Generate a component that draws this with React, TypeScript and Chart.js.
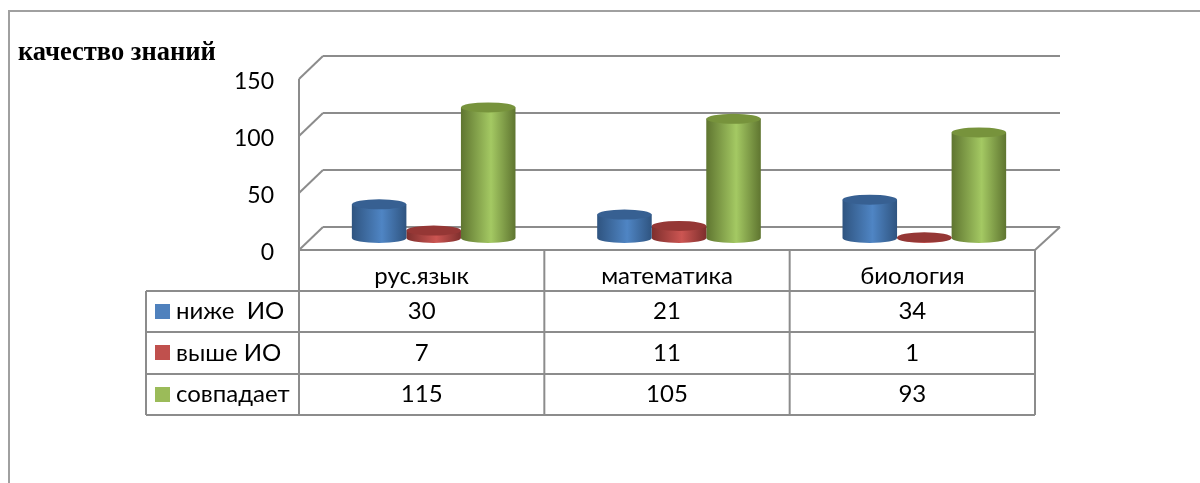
import React, { useEffect, useRef } from "react";
import { Chart, registerables } from "chart.js";

Chart.register(...registerables);

const categories = ["рус.язык", "математика", "биология"];
const seriesNames = ["ниже  ИО", "выше ИО", "совпадает"];
const below = [30, 21, 34];
const above = [7, 11, 1];
const matches = [115, 105, 93];
const yTicks = [0, 50, 100, 150];

const seriesColors = ["#4F81BD", "#C0504D", "#9BBB59"];
const shades = [
  { dark: "#2F5480", mid: "#4F85C4", top: "#376092" },
  { dark: "#7E2F2D", mid: "#CC5552", top: "#953735" },
  { dark: "#5F7530", mid: "#A4C963", top: "#77933C" },
];

const FONT = "Lato, 'Open Sans', sans-serif";
const LINE = "#8C8C8C";
const DEPTH_X = 24;
const DEPTH_Y = 23;
const RY = 5;
const ROWS = [291, 332, 374, 415];
const TABLE_LEFT = 146;

function seg(c: CanvasRenderingContext2D, x1: number, y1: number, x2: number, y2: number) {
  c.beginPath();
  c.moveTo(x1, y1);
  c.lineTo(x2, y2);
  c.stroke();
}

const scene = {
  id: "scene",
  beforeDatasetsDraw(chart: any) {
    const c: CanvasRenderingContext2D = chart.ctx;
    const { x, y } = chart.scales;
    const l = x.left;
    const r = x.right;
    c.save();
    // outer frame
    c.strokeStyle = "#A0A0A0";
    c.lineWidth = 2;
    c.beginPath();
    c.moveTo(9, 483);
    c.lineTo(9, 11);
    c.lineTo(1200, 11);
    c.stroke();
    // walls
    c.strokeStyle = LINE;
    c.lineWidth = 2;
    yTicks.forEach((t) => {
      const py = y.getPixelForValue(t);
      seg(c, l, py, l + DEPTH_X, py - DEPTH_Y);
      seg(c, l + DEPTH_X, py - DEPTH_Y, r + DEPTH_X + 1, py - DEPTH_Y);
    });
    const y0 = y.getPixelForValue(0);
    seg(c, l, y.getPixelForValue(150), l, y0);
    seg(c, l, y0, r, y0);
    seg(c, r, y0, r + DEPTH_X + 1, y0 - DEPTH_Y);
    // table grid
    const lastRow = ROWS[ROWS.length - 1];
    [l, ...categories.map((_, i) => x.getPixelForValue(i) + (x.getPixelForValue(1) - x.getPixelForValue(0)) / 2)].forEach((vx) =>
      seg(c, vx, y0, vx, lastRow)
    );
    seg(c, TABLE_LEFT, ROWS[0], TABLE_LEFT, lastRow);
    ROWS.forEach((ry) => seg(c, TABLE_LEFT, ry, r, ry));
    // table content
    c.textBaseline = "middle";
    c.fillStyle = "#000";
    c.font = `24px ${FONT}`;
    chart.data.datasets.forEach((ds: any, row: number) => {
      const cy = (ROWS[row] + ROWS[row + 1]) / 2;
      c.fillStyle = seriesColors[row];
      c.fillRect(155, Math.round(cy) - 8, 15, 15);
      c.fillStyle = "#000";
      c.textAlign = "left";
      c.fillText(ds.label, 176, cy);
      c.textAlign = "center";
      ds.data.forEach((v: number, i: number) => c.fillText(String(v), x.getPixelForValue(i), cy));
    });
    // title
    c.textAlign = "left";
    c.textBaseline = "alphabetic";
    c.font = "bold 26.5px 'Liberation Serif', serif";
    c.fillText("качество знаний", 18, 60);
    c.restore();
  },
  beforeDatasetDraw(chart: any, args: any) {
    const c: CanvasRenderingContext2D = chart.ctx;
    const y = chart.scales.y;
    const s = shades[args.index];
    const base = y.getPixelForValue(0) - DEPTH_Y / 2 - 0.5;
    const meta = chart.getDatasetMeta(args.index);
    c.save();
    meta.data.forEach((el: any) => {
      const cx = el.x + DEPTH_X / 2;
      const w = el.width;
      const rx = w / 2;
      const top = el.y - DEPTH_Y / 2;
      const g = c.createLinearGradient(cx - rx, 0, cx + rx, 0);
      g.addColorStop(0, s.dark);
      g.addColorStop(0.55, s.mid);
      g.addColorStop(1, s.dark);
      c.fillStyle = g;
      c.beginPath();
      c.moveTo(cx - rx, top);
      c.lineTo(cx - rx, base);
      c.ellipse(cx, base, rx, RY, 0, Math.PI, 0, true);
      c.lineTo(cx + rx, top);
      c.closePath();
      c.fill();
      c.fillStyle = s.top;
      c.beginPath();
      c.ellipse(cx, top, rx, RY, 0, 0, Math.PI * 2);
      c.fill();
    });
    c.restore();
    return false;
  },
};

export default function App() {
  const ref = useRef<HTMLCanvasElement>(null);
  useEffect(() => {
    const chart = new Chart(ref.current!, {
      type: "bar",
      data: {
        labels: categories,
        datasets: [
          { label: seriesNames[0], data: below, backgroundColor: seriesColors[0] },
          { label: seriesNames[1], data: above, backgroundColor: seriesColors[1] },
          { label: seriesNames[2], data: matches, backgroundColor: seriesColors[2] },
        ],
      },
      options: {
        responsive: false,
        animation: false,
        layout: { padding: { left: 0, top: 79, right: 165, bottom: 193 } },
        datasets: { bar: { categoryPercentage: 0.667, barPercentage: 1 } },
        plugins: { legend: { display: false }, tooltip: { enabled: false }, title: { display: false } },
        scales: {
          x: {
            grid: { display: false },
            border: { display: false },
            afterFit: (s: any) => { s.height = 40; },
            ticks: { color: "#000", padding: 4, font: { family: FONT, size: 24 }, maxRotation: 0 },
          },
          y: {
            min: 0,
            max: 150,
            grid: { display: false },
            border: { display: false },
            afterFit: (s: any) => { s.width = 299; },
            ticks: { color: "#000", stepSize: 50, padding: 17, labelOffset: 3, font: { family: FONT, size: 23 } },
          },
        },
      },
      plugins: [scene],
    } as any);
    return () => chart.destroy();
  }, []);
  return (
    <canvas
      ref={ref}
      width={1200}
      height={483}
      style={{ position: "fixed", left: 0, top: 0, width: 1200, height: 483, filter: "blur(0.4px)" }}
    />
  );
}
